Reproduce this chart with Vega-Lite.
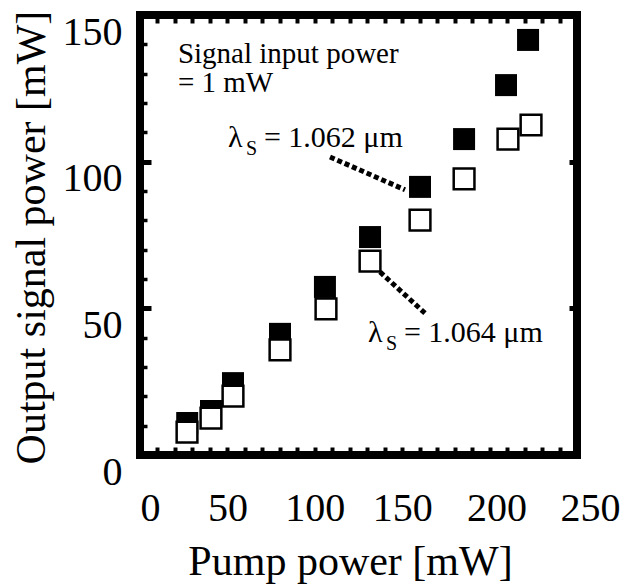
{
  "$schema": "https://vega.github.io/schema/vega-lite/v6.json",
  "width": 437,
  "height": 440,
  "autosize": {"type": "none"},
  "padding": {"left": 140, "top": 15, "right": 45, "bottom": 130},
  "background": "white",
  "config": {
    "view": {"stroke": "black", "strokeWidth": 8},
    "axis": {
      "domain": false,
      "grid": false,
      "labelFont": "Liberation Serif",
      "labelFontSize": 40,
      "labelColor": "black",
      "titleFont": "Liberation Serif",
      "titleFontSize": 42,
      "titleFontWeight": "normal",
      "titleColor": "black",
      "tickColor": "black"
    }
  },
  "datasets": {
    "points": [
      {"pump": 27.0, "out": 10.9, "series": "1.062"},
      {"pump": 40.6, "out": 15.0, "series": "1.062"},
      {"pump": 53.2, "out": 24.5, "series": "1.062"},
      {"pump": 80.1, "out": 41.3, "series": "1.062"},
      {"pump": 105.8, "out": 57.3, "series": "1.062"},
      {"pump": 131.6, "out": 74.3, "series": "1.062"},
      {"pump": 160.2, "out": 91.4, "series": "1.062"},
      {"pump": 185.4, "out": 107.7, "series": "1.062"},
      {"pump": 209.4, "out": 126.1, "series": "1.062"},
      {"pump": 222.0, "out": 141.5, "series": "1.062"},
      {"pump": 26.9, "out": 7.8, "series": "1.064"},
      {"pump": 40.6, "out": 12.6, "series": "1.064"},
      {"pump": 53.2, "out": 20.1, "series": "1.064"},
      {"pump": 80.1, "out": 35.8, "series": "1.064"},
      {"pump": 106.4, "out": 49.8, "series": "1.064"},
      {"pump": 131.6, "out": 66.1, "series": "1.064"},
      {"pump": 160.2, "out": 80.1, "series": "1.064"},
      {"pump": 185.4, "out": 94.1, "series": "1.064"},
      {"pump": 210.5, "out": 107.7, "series": "1.064"},
      {"pump": 223.7, "out": 112.5, "series": "1.064"}
    ],
    "labels": [
      {"x": 50.3, "y": 105.0, "lam": "λ", "sub": "S", "rest": "= 1.062 μm"},
      {"x": 130.4, "y": 38.5, "lam": "λ", "sub": "S", "rest": "= 1.064 μm"}
    ],
    "notes": [
      {"x": 21.7, "y": 133.6, "t": "Signal input power"},
      {"x": 21.7, "y": 123.8, "t": "= 1 mW"}
    ],
    "leaders": [
      {"x": 108.7, "y": 101.6, "x2": 151.6, "y2": 90.4},
      {"x": 137.3, "y": 62.4, "x2": 164.2, "y2": 47.7}
    ]
  },
  "resolve": {"axis": {"x": "independent", "y": "independent"}},
  "layer": [
    {
      "data": {"name": "points"},
      "transform": [{"filter": "datum.series == '1.062'"}],
      "mark": {"type": "point", "shape": "square", "filled": true, "fill": "black", "size": 484, "opacity": 1, "strokeWidth": 0},
      "encoding": {
        "x": {"field": "pump", "type": "quantitative", "scale": {"domain": [0, 250], "nice": false},
          "axis": {"orient": "bottom", "values": [0, 50, 100, 150, 200, 250], "ticks": false, "labelPadding": 33, "labelBaseline": "top", "title": "Pump power [mW]", "titleX": 210, "titleY": 119, "titleBaseline": "alphabetic", "titleAlign": "center", "labelFlush": false,
            "labelOffset": {"condition": [{"test": "datum.value === 0", "value": 10}, {"test": "datum.value === 200", "value": 7}, {"test": "datum.value === 250", "value": 13}], "value": 0}}},
        "y": {"field": "out", "type": "quantitative", "scale": {"domain": [0, 150], "nice": false},
          "axis": {"orient": "left", "values": [0, 50, 100, 150], "ticks": false, "labelPadding": 18, "labelOffset": 17, "labelFlush": false, "title": "Output signal power [mW]", "titleX": -96, "titleY": 222, "titleBaseline": "alphabetic", "titleAlign": "center", "titleAngle": 270}}
      }
    },
    {
      "data": {"name": "points"},
      "transform": [{"filter": "datum.series == '1.064'"}],
      "mark": {"type": "point", "shape": "square", "filled": false, "fill": "white", "fillOpacity": 1, "stroke": "black", "strokeWidth": 2.5, "size": 430, "opacity": 1},
      "encoding": {
        "x": {"field": "pump", "type": "quantitative", "scale": {"domain": [0, 250], "nice": false},
          "axis": {"orient": "bottom", "values": [10, 20, 30, 40, 50, 60, 70, 80, 90, 100, 110, 120, 130, 140, 150, 160, 170, 180, 190, 200, 210, 220, 230, 240], "labels": false, "title": null, "tickSize": -8, "tickWidth": 4}},
        "y": {"field": "out", "type": "quantitative", "scale": {"domain": [0, 150], "nice": false},
          "axis": {"orient": "left", "values": [10, 20, 30, 40, 60, 70, 80, 90, 110, 120, 130, 140], "labels": false, "title": null, "tickSize": -7, "tickWidth": 3.5}}
      }
    },
    {
      "data": {"name": "labels"},
      "mark": {"type": "text", "align": "left", "baseline": "alphabetic", "font": "Liberation Serif", "fontSize": 30, "color": "black"},
      "encoding": {
        "x": {"field": "x", "type": "quantitative", "scale": {"domain": [0, 250], "nice": false},
          "axis": {"orient": "top", "values": [10, 20, 30, 40, 50, 60, 70, 80, 90, 100, 110, 120, 130, 140, 150, 160, 170, 180, 190, 200, 210, 220, 230, 240], "labels": false, "title": null, "tickSize": -8, "tickWidth": 4}},
        "y": {"field": "y", "type": "quantitative", "scale": {"domain": [0, 150], "nice": false},
          "axis": {"orient": "left", "values": [50, 100], "labels": false, "title": null, "tickSize": -11, "tickWidth": 5}},
        "text": {"field": "lam"}
      }
    },
    {
      "data": {"name": "labels"},
      "mark": {"type": "text", "align": "left", "baseline": "alphabetic", "font": "Liberation Serif", "fontSize": 20, "dx": 18, "dy": 8, "color": "black"},
      "encoding": {
        "x": {"field": "x", "type": "quantitative", "scale": {"domain": [0, 250], "nice": false}, "axis": null},
        "y": {"field": "y", "type": "quantitative", "scale": {"domain": [0, 150], "nice": false},
          "axis": {"orient": "right", "values": [50, 100], "labels": false, "title": null, "tickSize": -8, "tickWidth": 5}},
        "text": {"field": "sub"}
      }
    },
    {
      "data": {"name": "labels"},
      "mark": {"type": "text", "align": "left", "baseline": "alphabetic", "font": "Liberation Serif", "fontSize": 30, "dx": 36, "color": "black"},
      "encoding": {
        "x": {"field": "x", "type": "quantitative", "scale": {"domain": [0, 250], "nice": false}, "axis": null},
        "y": {"field": "y", "type": "quantitative", "scale": {"domain": [0, 150], "nice": false}, "axis": null},
        "text": {"field": "rest"}
      }
    },
    {
      "data": {"name": "notes"},
      "mark": {"type": "text", "align": "left", "baseline": "alphabetic", "font": "Liberation Serif", "fontSize": 29, "color": "black"},
      "encoding": {
        "x": {"field": "x", "type": "quantitative", "scale": {"domain": [0, 250], "nice": false}, "axis": null},
        "y": {"field": "y", "type": "quantitative", "scale": {"domain": [0, 150], "nice": false}, "axis": null},
        "text": {"field": "t"}
      }
    },
    {
      "data": {"name": "leaders"},
      "mark": {"type": "rule", "color": "black", "strokeWidth": 5, "strokeDash": [5, 3], "strokeCap": "butt"},
      "encoding": {
        "x": {"field": "x", "type": "quantitative", "scale": {"domain": [0, 250], "nice": false}, "axis": null},
        "y": {"field": "y", "type": "quantitative", "scale": {"domain": [0, 150], "nice": false}, "axis": null},
        "x2": {"field": "x2"},
        "y2": {"field": "y2"}
      }
    }
  ]
}
